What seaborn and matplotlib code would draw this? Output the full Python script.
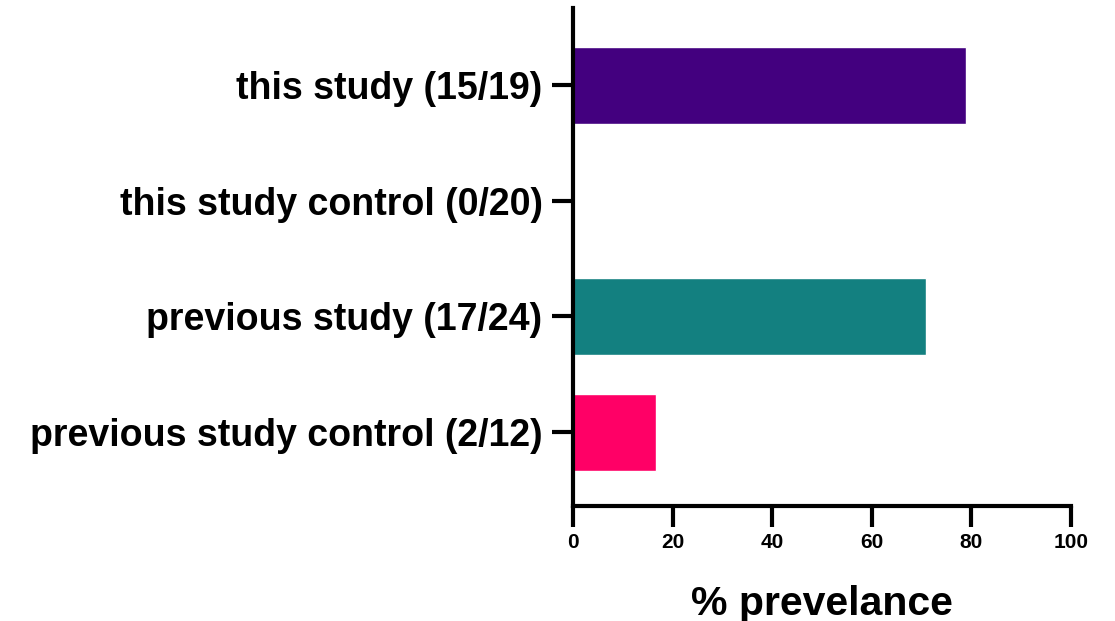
import matplotlib.pyplot as plt
import pandas as pd
import seaborn as sns

# groups, top to bottom, with the positive/total counts shown in the labels
groups = [
    "this study (15/19)",
    "this study control (0/20)",
    "previous study (17/24)",
    "previous study control (2/12)",
]
positives = [15, 0, 17, 2]
totals = [19, 20, 24, 12]
colors = ["#43007F", "#FFFFFF", "#138080", "#FF0066"]

df = pd.DataFrame({"group": groups, "pos": positives, "n": totals})
df["prevalence"] = 100 * df["pos"] / df["n"]

sns.set_theme(style="white")
plt.rcParams["font.family"] = ["Liberation Sans", "DejaVu Sans"]
plt.rcParams["font.weight"] = "bold"
plt.rcParams["text.color"] = "black"
plt.rcParams["axes.labelcolor"] = "black"
plt.rcParams["xtick.color"] = "black"
plt.rcParams["ytick.color"] = "black"

fig = plt.figure(figsize=(11.15, 6.21), dpi=100)
ax = fig.add_axes([0.514, 0.185, 0.4465, 0.802])

sns.barplot(data=df, x="prevalence", y="group", hue="group",
            palette=colors, legend=False, width=0.665, saturation=1, ax=ax)

ax.set_xlim(0, 100)
ax.set_ylim(3.64, -0.666)
ax.set_xticks(range(0, 101, 20))
ax.set_xlabel("% prevelance", fontsize=29.5, fontweight="bold", labelpad=24)
ax.set_ylabel("")

for side in ("top", "right"):
    ax.spines[side].set_visible(False)
for side in ("left", "bottom"):
    ax.spines[side].set_linewidth(3)
    ax.spines[side].set_color("black")

ax.tick_params(axis="y", left=True, length=15, width=3, pad=7, labelsize=27)
ax.tick_params(axis="x", bottom=True, length=15, width=3, pad=4, labelsize=15)
for lbl in ax.get_yticklabels() + ax.get_xticklabels():
    lbl.set_fontweight("bold")

fig.savefig("out.png", dpi=100)
